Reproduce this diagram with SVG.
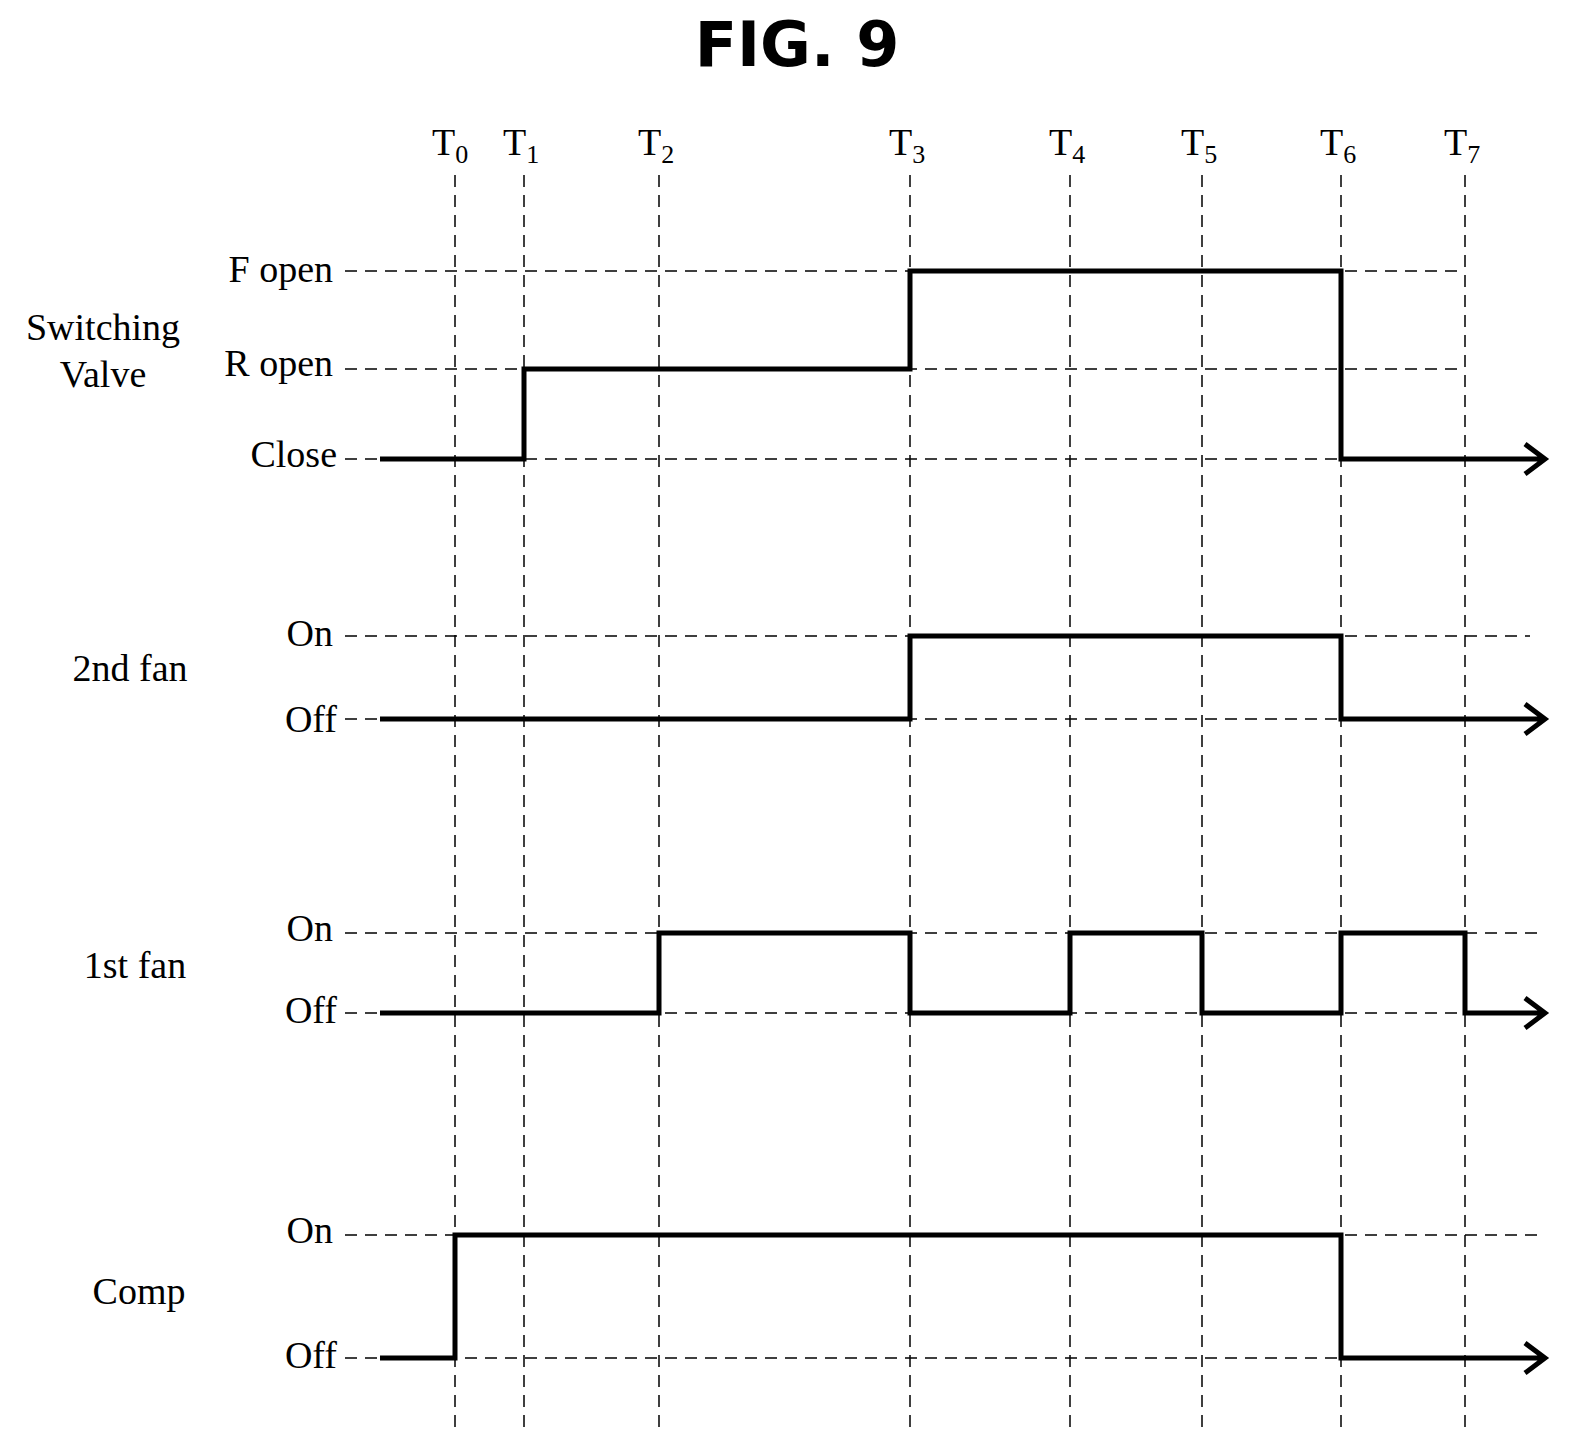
<svg xmlns="http://www.w3.org/2000/svg" width="1571" height="1452" viewBox="0 0 1571 1452">
<style>
.d{stroke:#000;stroke-width:1.5;stroke-dasharray:12,8;fill:none}
.s{stroke:#000;stroke-width:5;fill:none;stroke-linejoin:miter}
.t{font-family:"Liberation Serif",serif;font-size:38px;fill:#000;white-space:pre}
.sub{font-size:26px}
</style>
<rect width="1571" height="1452" fill="#fff"/>
<text x="797" y="66" text-anchor="middle" font-family="DejaVu Sans,sans-serif" font-weight="bold" font-size="62">FIG. 9</text>
<g id="grid">
<path class="d" d="M455 175V1430M524 175V1430M659 175V1430M910 175V1430M1070 175V1430M1202 175V1430M1341 175V1430M1465 175V1430"/>
<path class="d" d="M345 271H1465M345 369H1465M345 459H1530M345 636H1530M345 719H1530M345 933H1545M345 1013H1530M345 1235H1545M345 1358H1530"/>
</g>
<g id="tlabels" class="t">
<text x="432" y="155">T<tspan class="sub" dy="8">0</tspan></text>
<text x="503" y="155">T<tspan class="sub" dy="8">1</tspan></text>
<text x="638" y="155">T<tspan class="sub" dy="8">2</tspan></text>
<text x="889" y="155">T<tspan class="sub" dy="8">3</tspan></text>
<text x="1049" y="155">T<tspan class="sub" dy="8">4</tspan></text>
<text x="1181" y="155">T<tspan class="sub" dy="8">5</tspan></text>
<text x="1320" y="155">T<tspan class="sub" dy="8">6</tspan></text>
<text x="1444" y="155">T<tspan class="sub" dy="8">7</tspan></text>
</g>
<g id="labels" class="t">
<text x="103" y="340" text-anchor="middle">Switching</text>
<text x="103" y="387" text-anchor="middle">Valve</text>
<text x="333" y="282" text-anchor="end">F  open</text>
<text x="333" y="376" text-anchor="end">R  open</text>
<text x="337" y="467" text-anchor="end">Close</text>
<text x="130" y="681" text-anchor="middle">2nd  fan</text>
<text x="333" y="646" text-anchor="end">On</text>
<text x="337" y="732" text-anchor="end">Off</text>
<text x="135" y="978" text-anchor="middle">1st  fan</text>
<text x="333" y="941" text-anchor="end">On</text>
<text x="337" y="1023" text-anchor="end">Off</text>
<text x="139" y="1304" text-anchor="middle">Comp</text>
<text x="333" y="1243" text-anchor="end">On</text>
<text x="337" y="1368" text-anchor="end">Off</text>
</g>
<g id="signals">
<path class="s" d="M380 459H524V369H910V271H1341V459H1545M1525 444L1545 459L1525 474"/>
<path class="s" d="M380 719H910V636H1341V719H1545M1525 704L1545 719L1525 734"/>
<path class="s" d="M380 1013H659V933H910V1013H1070V933H1202V1013H1341V933H1465V1013H1545M1525 998L1545 1013L1525 1028"/>
<path class="s" d="M380 1358H455V1235H1341V1358H1545M1525 1343L1545 1358L1525 1373"/>
</g>
</svg>
